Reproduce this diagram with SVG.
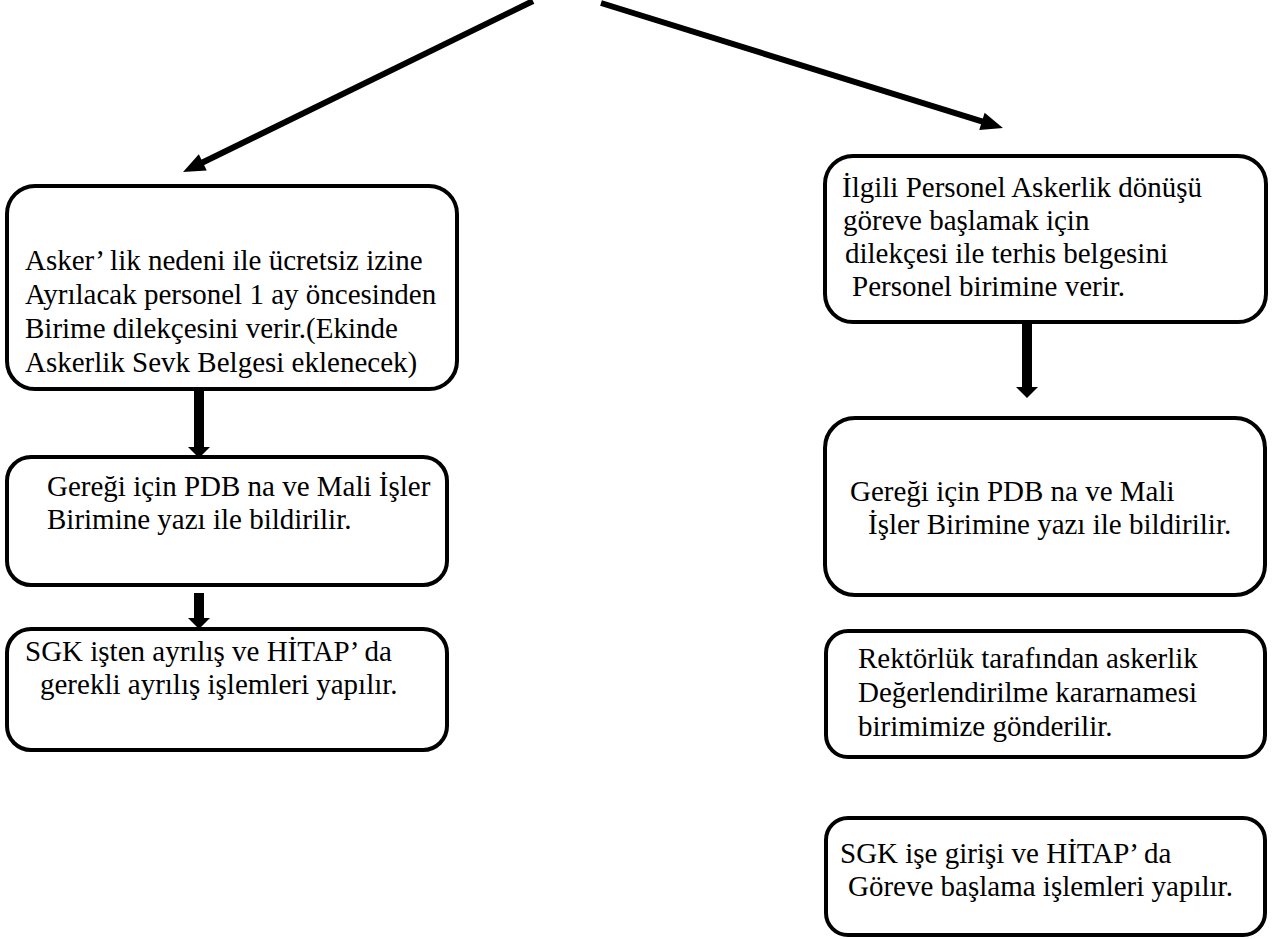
<svg xmlns="http://www.w3.org/2000/svg" width="1275" height="939" viewBox="0 0 1275 939">
<style>
.box{fill:#fff;stroke:#000;stroke-width:4}
.t{font-family:"Liberation Serif","Times New Roman",serif;font-size:29px;fill:#000}
.diag{stroke:#000;stroke-width:6;fill:none;marker-end:url(#ah)}
.vert{stroke:#000;stroke-width:10;fill:none;marker-end:url(#vh)}
</style>
<defs>
<marker id="ah" markerUnits="userSpaceOnUse" markerWidth="24" markerHeight="20" refX="10" refY="9" orient="auto" overflow="visible">
<path d="M0,0 L22,9 L0,18 z" fill="#000"/>
</marker>
<marker id="vh" markerUnits="userSpaceOnUse" markerWidth="14" markerHeight="24" refX="5" refY="11" orient="auto" overflow="visible">
<path d="M0,0 L11,11 L0,22 z" fill="#000"/>
</marker>
</defs>
<rect width="1275" height="939" fill="#fff"/>
<g id="nodes">
<g id="L1">
<rect class="box" x="7" y="186" width="450" height="203" rx="28"/>
<text class="t"><tspan x="25" y="270">Asker’ lik nedeni ile ücretsiz izine</tspan><tspan x="25" y="304">Ayrılacak personel 1 ay öncesinden</tspan><tspan x="25" y="338">Birime dilekçesini verir.(Ekinde</tspan><tspan x="25" y="372">Askerlik Sevk Belgesi eklenecek)</tspan></text>
</g>
<g id="L2">
<rect class="box" x="7" y="457" width="440" height="128" rx="24"/>
<text class="t"><tspan x="47" y="496">Gereği için PDB na ve Mali İşler</tspan><tspan x="47" y="529">Birimine yazı ile bildirilir.</tspan></text>
</g>
<g id="L3">
<rect class="box" x="7" y="629" width="440" height="121" rx="24"/>
<text class="t"><tspan x="25" y="661">SGK işten ayrılış ve HİTAP’ da</tspan><tspan x="40" y="694">gerekli ayrılış işlemleri yapılır.</tspan></text>
</g>
<g id="R1">
<rect class="box" x="825" y="156" width="441" height="166" rx="28"/>
<text class="t"><tspan x="842" y="197">İlgili Personel Askerlik dönüşü</tspan><tspan x="843" y="230">göreve başlamak için</tspan><tspan x="845" y="263">dilekçesi ile terhis belgesini</tspan><tspan x="852" y="296">Personel birimine verir.</tspan></text>
</g>
<g id="R2">
<rect class="box" x="825" y="418" width="440" height="177" rx="30"/>
<text class="t"><tspan x="850" y="501">Gereği için PDB na ve Mali</tspan><tspan x="868" y="534">İşler Birimine yazı ile bildirilir.</tspan></text>
</g>
<g id="R3">
<rect class="box" x="826" y="631" width="439" height="126" rx="22"/>
<text class="t"><tspan x="858" y="668">Rektörlük tarafından askerlik</tspan><tspan x="858" y="702">Değerlendirilme kararnamesi</tspan><tspan x="858" y="736">birimimize gönderilir.</tspan></text>
</g>
<g id="R4">
<rect class="box" x="826" y="818" width="439" height="117" rx="22"/>
<text class="t"><tspan x="840" y="863">SGK işe girişi ve HİTAP’ da</tspan><tspan x="848" y="896">Göreve başlama işlemleri yapılır.</tspan></text>
</g>
</g>
<g id="connectors">
<line class="diag" x1="533" y1="1" x2="193.8" y2="166.8"/>
<line class="diag" x1="601" y1="3" x2="991.5" y2="124.4"/>
<line class="vert" x1="199" y1="391" x2="199" y2="452"/>
<line class="vert" x1="199" y1="593" x2="199" y2="623"/>
<line class="vert" x1="1027" y1="324" x2="1027" y2="392"/>
</g>
</svg>
